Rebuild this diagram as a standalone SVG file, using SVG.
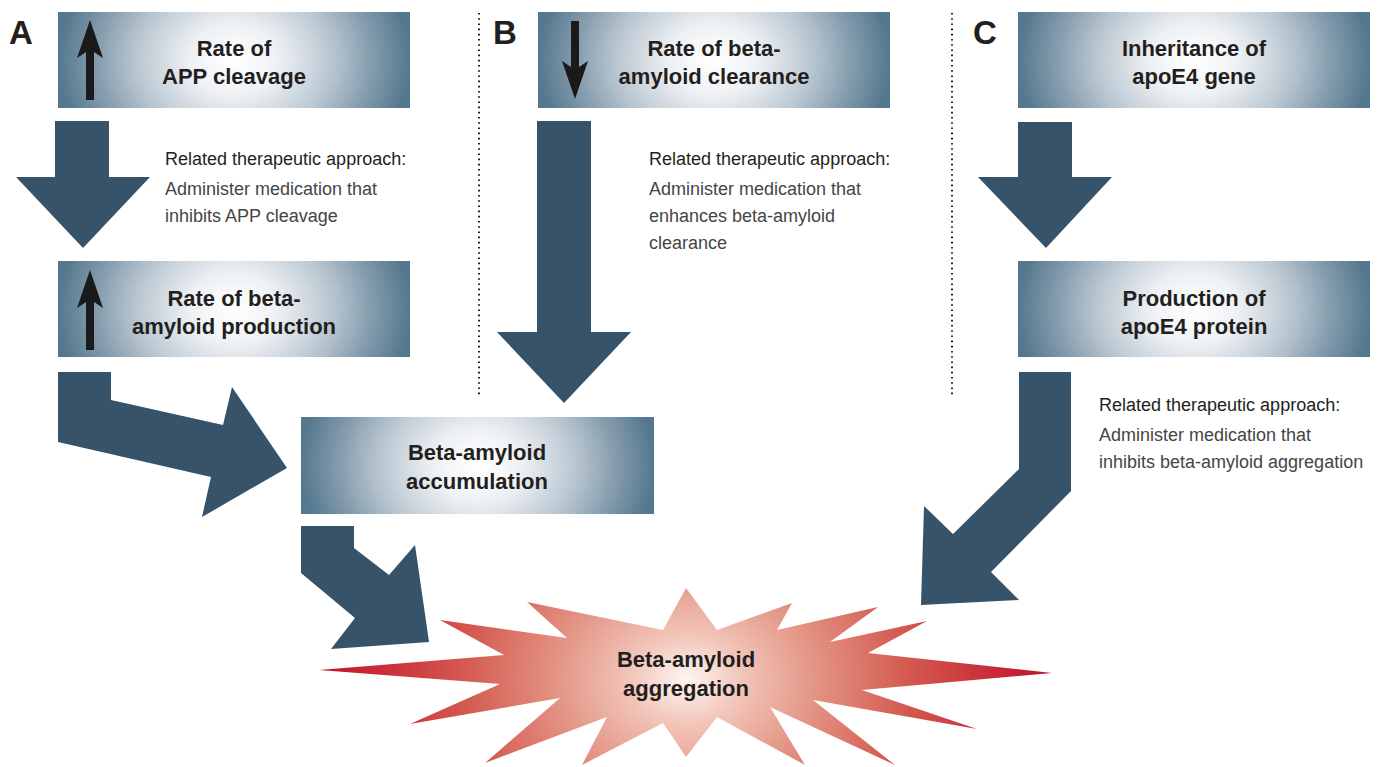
<svg xmlns="http://www.w3.org/2000/svg" width="1379" height="767" viewBox="0 0 1379 767">
  <defs>
    <radialGradient id="boxGrad" cx="0.5" cy="0.5" r="0.5" gradientTransform="translate(0.5,0.5) scale(1,3) translate(-0.5,-0.5)">
      <stop offset="0" stop-color="#ffffff"/>
      <stop offset="0.25" stop-color="#eef1f4"/>
      <stop offset="0.55" stop-color="#bac7d1"/>
      <stop offset="0.8" stop-color="#8199ab"/>
      <stop offset="1" stop-color="#54788e"/>
    </radialGradient>
    <radialGradient id="burstGrad" gradientUnits="userSpaceOnUse" cx="686" cy="680" r="370" gradientTransform="translate(686,680) scale(1,0.8) translate(-686,-680)">
      <stop offset="0" stop-color="#fdf5f2"/>
      <stop offset="0.15" stop-color="#f2c6ba"/>
      <stop offset="0.35" stop-color="#e39585"/>
      <stop offset="0.6" stop-color="#d45a50"/>
      <stop offset="0.82" stop-color="#c92d39"/>
      <stop offset="1" stop-color="#c0102c"/>
    </radialGradient>
    <style>
      .box { fill: url(#boxGrad); }
      .title { font-family: "Liberation Sans", Arial, sans-serif; font-weight: bold; font-size: 22px; fill: #231f20; text-anchor: middle; }
      .letter { font-family: "Liberation Sans", Arial, sans-serif; font-weight: bold; font-size: 33px; fill: #231f20; }
      .rel { font-family: "Liberation Sans", Arial, sans-serif; font-size: 18px; fill: #231f20; }
      .body { font-family: "Liberation Sans", Arial, sans-serif; font-size: 18px; fill: #454545; }
      .big { fill: #36536a; }
      .small { fill: #1a1a1a; }
      .divider { stroke: #231f20; stroke-width: 2; stroke-dasharray: 1.6 3.6; fill: none; }
    </style>
  </defs>
  <rect width="1379" height="767" fill="#ffffff"/>

  <!-- panel letters and dividers -->
  <g id="labels">
    <text class="letter" x="9" y="44">A</text>
    <text class="letter" x="493" y="44">B</text>
    <text class="letter" x="973" y="44">C</text>
    <line class="divider" x1="479" y1="13" x2="479" y2="395"/>
    <line class="divider" x1="952" y1="13" x2="952" y2="395"/>
  </g>

  <!-- connectors -->
  <g id="connectors">
    <polygon class="big" points="55,121 109,121 109,177 150,177 83,248 16,177 55,177"/>
    <polygon class="big" points="58,372 111,372 111,400 223,425 232,387 287,468 202,517 211,477 58,442"/>
    <polygon class="big" points="301,526 354,526 354,548 389,575 415,545 429,642 331,649 355,618 301,573"/>
    <polygon class="big" points="537,121 591,121 591,332 631,332 564,403 497,332 537,332"/>
    <polygon class="big" points="1018,122 1072,122 1072,177 1112,177 1046,248 978,177 1018,177"/>
    <polygon class="big" points="1019,372 1071,372 1071,491 991,572 1019,600 921,605 924,506 953,534 1019,469"/>
  </g>

  <!-- nodes -->
  <g id="node-app-cleavage">
    <rect class="box" x="58" y="12" width="352" height="96"/>
    <polygon class="small" points="90,20 103,58 94,52 94,100 86,100 86,52 77,58"/>
    <text class="title" x="234" y="56">Rate of</text>
    <text class="title" x="234" y="84">APP cleavage</text>
  </g>
  <g id="node-ba-production">
    <rect class="box" x="58" y="261" width="352" height="96"/>
    <polygon class="small" points="90,270 103,308 94,302 94,350 86,350 86,302 77,308"/>
    <text class="title" x="234" y="306">Rate of beta-</text>
    <text class="title" x="234" y="334">amyloid production</text>
  </g>
  <g id="node-ba-clearance">
    <rect class="box" x="538" y="12" width="352" height="96"/>
    <polygon class="small" points="575,99 562,61 571,67 571,21 579,21 579,67 588,61"/>
    <text class="title" x="714" y="56">Rate of beta-</text>
    <text class="title" x="714" y="84">amyloid clearance</text>
  </g>
  <g id="node-apoe4-gene">
    <rect class="box" x="1018" y="12" width="352" height="96"/>
    <text class="title" x="1194" y="56">Inheritance of</text>
    <text class="title" x="1194" y="84">apoE4 gene</text>
  </g>
  <g id="node-apoe4-protein">
    <rect class="box" x="1018" y="261" width="352" height="96"/>
    <text class="title" x="1194" y="306">Production of</text>
    <text class="title" x="1194" y="334">apoE4 protein</text>
  </g>
  <g id="node-ba-accumulation">
    <rect class="box" x="301" y="417" width="353" height="97"/>
    <text class="title" x="477" y="460">Beta-amyloid</text>
    <text class="title" x="477" y="489">accumulation</text>
  </g>
  <g id="node-ba-aggregation">
    <polygon fill="url(#burstGrad)" points="319,670 504,655 440,620 567,638 527,602 663,630 686,588 717,630 792,603 777,630 878,607 830,642 927,621 868,653 1052,673 862,690 977,729 813,700 895,765 770,707 805,765 717,717 686,757 663,723 582,765 607,717 485,763 560,698 410,724 500,684"/>
    <text class="title" x="686" y="667">Beta-amyloid</text>
    <text class="title" x="686" y="696">aggregation</text>
  </g>

  <!-- therapeutic approach notes -->
  <g id="note-a">
    <text class="rel" x="165" y="165">Related therapeutic approach:</text>
    <text class="body" x="165" y="195">Administer medication that</text>
    <text class="body" x="165" y="222">inhibits APP cleavage</text>
  </g>
  <g id="note-b">
    <text class="rel" x="649" y="165">Related therapeutic approach:</text>
    <text class="body" x="649" y="195">Administer medication that</text>
    <text class="body" x="649" y="222">enhances beta-amyloid</text>
    <text class="body" x="649" y="249">clearance</text>
  </g>
  <g id="note-c">
    <text class="rel" x="1099" y="411">Related therapeutic approach:</text>
    <text class="body" x="1099" y="441">Administer medication that</text>
    <text class="body" x="1099" y="468">inhibits beta-amyloid aggregation</text>
  </g>
</svg>
